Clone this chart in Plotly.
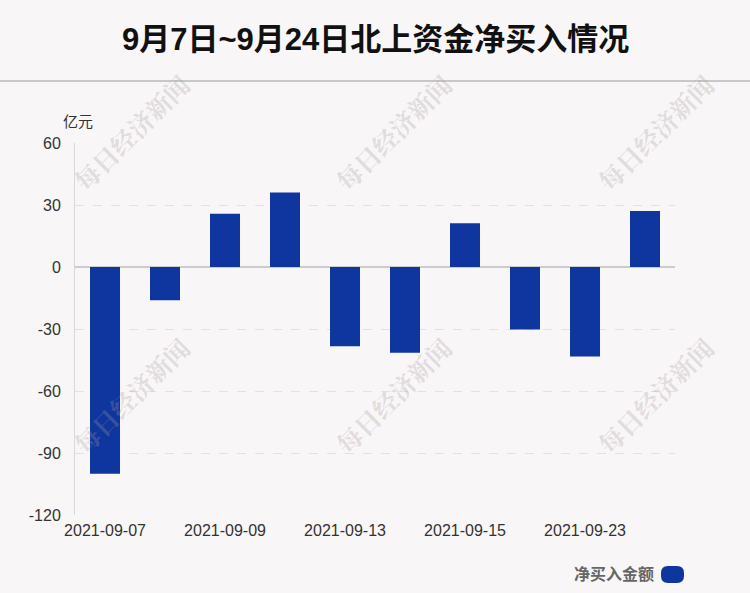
import plotly.graph_objects as go

dates = ["2021-09-07", "2021-09-08", "2021-09-09", "2021-09-10", "2021-09-13",
         "2021-09-14", "2021-09-15", "2021-09-16", "2021-09-23", "2021-09-24"]
net_buy = [-100.0, -16.1, 25.8, 36.0, -38.4, -41.5, 21.2, -30.3, -43.3, 27.1]
tick_dates = ["2021-09-07", "2021-09-09", "2021-09-13", "2021-09-15", "2021-09-23"]
y_ticks = [60, 30, 0, -30, -60, -90, -120]
y_tick_text = ["60", "30", "0", "-30", "-60", "-90", "-120"]

W, H = 750, 593
L, R, T, B = 75, 675, 143, 515
BAR_COLOR = "#0f359f"
BG = "#f9f6f7"
FONT = "Liberation Sans, Arial, Noto Sans CJK SC, sans-serif"


def px(x):
    return (x - L) / (R - L)


def py(y):
    return (B - y) / (B - T)


fig = go.Figure()
fig.add_trace(go.Bar(x=dates, y=net_buy, marker=dict(color=BAR_COLOR, line=dict(width=0)),
                     name="净买入金额", showlegend=False))

annotations = []
# watermarks
for cx in (131, 393, 655):
    for cy in (132, 395):
        annotations.append(dict(text="<b>每日经济新闻</b>", x=px(cx), y=py(cy), xref="paper",
                                yref="paper", showarrow=False, textangle=-45,
                                xanchor="center", yanchor="middle",
                                font=dict(size=25, color="rgba(165,155,155,0.3)",
                                          family="Noto Serif CJK SC, Noto Sans CJK SC, serif")))
# title
annotations.append(dict(text="<b>9月7日~9月24日北上资金净买入情况</b>", x=0.5, y=py(39),
                        xref="paper", yref="paper", showarrow=False, xanchor="center",
                        yanchor="middle", font=dict(size=31, color="#111", family=FONT)))
# unit
annotations.append(dict(text="亿元", x=px(61), y=py(121), xref="paper", yref="paper",
                        showarrow=False, xanchor="left", yanchor="middle",
                        font=dict(size=15, color="#333", family=FONT)))
# legend text
annotations.append(dict(text="<b>净买入金额</b>", x=px(656), y=py(574), xref="paper", yref="paper",
                        showarrow=False, xanchor="right", yanchor="middle",
                        font=dict(size=16, color="#666", family=FONT)))


def rounded_rect(x0, y0, x1, y1, r):
    return (f"M {px(x0 + r)},{py(y0)} L {px(x1 - r)},{py(y0)} "
            f"Q {px(x1)},{py(y0)} {px(x1)},{py(y0 + r)} L {px(x1)},{py(y1 - r)} "
            f"Q {px(x1)},{py(y1)} {px(x1 - r)},{py(y1)} L {px(x0 + r)},{py(y1)} "
            f"Q {px(x0)},{py(y1)} {px(x0)},{py(y1 - r)} L {px(x0)},{py(y0 + r)} "
            f"Q {px(x0)},{py(y0)} {px(x0 + r)},{py(y0)} Z")


shapes = [
    dict(type="line", xref="paper", yref="paper", x0=px(0), x1=px(W), y0=py(81), y1=py(81),
         line=dict(color="#c8c8c8", width=2)),
    dict(type="path", xref="paper", yref="paper", path=rounded_rect(661, 566, 684, 583, 7),
         fillcolor=BAR_COLOR, line=dict(width=0)),
]

fig.update_layout(
    width=W, height=H,
    margin=dict(l=L, r=W - R, t=T, b=H - B, pad=0),
    paper_bgcolor=BG, plot_bgcolor=BG,
    bargap=0.5,
    annotations=annotations,
    shapes=shapes,
    font=dict(family=FONT, size=16, color="#333"),
    xaxis=dict(type="category", tickmode="array", tickvals=tick_dates, ticktext=tick_dates,
               showgrid=False, showline=False, zeroline=False, ticks="", ticklabelstandoff=4,
               tickfont=dict(size=16, color="#333", family=FONT)),
    yaxis=dict(range=[-120, 60], tickmode="array", tickvals=y_ticks, ticktext=y_tick_text,
               showgrid=True, gridcolor="#e4e1e2", griddash="dash", gridwidth=1,
               showline=True, linecolor="#d8d8d8", linewidth=1,
               zeroline=True, zerolinecolor="#cccccc", zerolinewidth=2,
               ticks="", ticklabelstandoff=10,
               tickfont=dict(size=16, color="#333", family=FONT)),
)

fig.write_html("out.html", config={"displayModeBar": False},
               post_script="document.body.style.margin='0';document.body.style.background='%s';" % BG)
